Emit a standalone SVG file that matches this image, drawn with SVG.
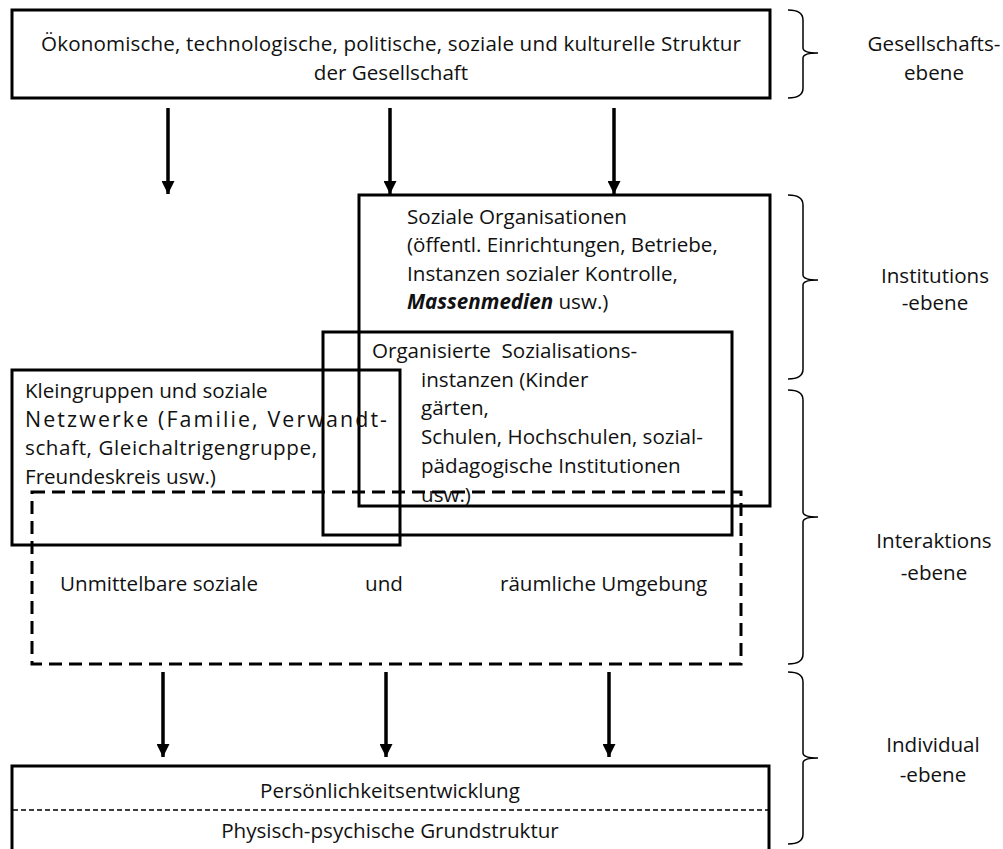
<svg xmlns="http://www.w3.org/2000/svg" width="1003" height="849" viewBox="0 0 1003 849">
  <defs>
    <marker id="arrowhead" markerWidth="13" markerHeight="13" refX="13" refY="6.5" orient="auto" markerUnits="userSpaceOnUse">
      <path d="M0,0 L13,6.5 L0,13 Z" fill="#000"/>
    </marker>
    <style>
      text { font-family: "Open Sans", "Liberation Sans", sans-serif; font-size: 20.6px; fill: #111; }
      .box { fill: none; stroke: #000; stroke-width: 3; }
      .dash { fill: none; stroke: #000; stroke-width: 3; stroke-dasharray: 13 7; }
      .sep { fill: none; stroke: #000; stroke-width: 1.5; stroke-dasharray: 5 3; }
      .brace { fill: none; stroke: #000; stroke-width: 1.5; }
      .arrow { stroke: #000; stroke-width: 3.5; marker-end: url(#arrowhead); }
      .mid { text-anchor: middle; }
      .em { font-weight: bold; font-style: italic; }
      .wide { font-size: 21.4px; }
    </style>
  </defs>
  <rect width="1003" height="849" fill="#fff"/>

  <!-- society level -->
  <g id="society">
    <rect class="box" x="12" y="10" width="758" height="88"/>
    <text class="mid" x="391" y="51" textLength="700" lengthAdjust="spacing">Ökonomische, technologische, politische, soziale und kulturelle Struktur</text>
    <text class="mid" x="391" y="80">der Gesellschaft</text>
  </g>

  <!-- social organisations -->
  <g id="organisations">
    <rect class="box" x="359" y="195" width="411" height="311"/>
    <text x="407" y="224">Soziale Organisationen</text>
    <text x="407" y="252">(öffentl. Einrichtungen, Betriebe,</text>
    <text x="407" y="281">Instanzen sozialer Kontrolle,</text>
    <text x="407" y="309"><tspan class="em">Massenmedien</tspan> usw.)</text>
  </g>

  <!-- organised socialisation agencies -->
  <g id="agencies">
    <rect class="box" x="323" y="332" width="409" height="203"/>
    <text x="372" y="358">Organisierte&#160; Sozialisations-</text>
    <text x="421" y="387">instanzen (Kinder</text>
    <text x="421" y="415">gärten,</text>
    <text x="421" y="444">Schulen, Hochschulen, sozial-</text>
    <text x="421" y="473">pädagogische Institutionen</text>
    <text x="421" y="502">usw.)</text>
  </g>

  <!-- small groups -->
  <g id="smallgroups">
    <rect class="box" x="12" y="370" width="388" height="175"/>
    <text x="25" y="398">Kleingruppen und soziale</text>
    <text class="wide" x="25" y="427" textLength="362" lengthAdjust="spacing">Netzwerke (Familie, Verwandt-</text>
    <text x="25" y="455" textLength="292" lengthAdjust="spacing">schaft, Gleichaltrigengruppe,</text>
    <text x="25" y="484">Freundeskreis usw.)</text>
  </g>

  <!-- immediate environment -->
  <g id="environment">
    <rect class="dash" x="32" y="492" width="709" height="172"/>
    <text x="60" y="591">Unmittelbare soziale</text>
    <text x="365" y="591">und</text>
    <text x="500" y="591">räumliche Umgebung</text>
  </g>

  <!-- individual -->
  <g id="individual">
    <rect class="box" x="12" y="766" width="757" height="100"/>
    <line class="sep" x1="13" y1="810" x2="768" y2="810"/>
    <text class="mid" x="390" y="798">Persönlichkeitsentwicklung</text>
    <text class="mid" x="390" y="838">Physisch-psychische Grundstruktur</text>
  </g>

  <!-- level braces and labels -->
  <g id="levels">
    <path class="brace" d="M788,10 Q803,10 803,20 L803,48 Q803,53 818,53 Q803,53 803,58 L803,88 Q803,98 788,98"/>
    <path class="brace" d="M788,195 Q803,195 803,205 L803,275 Q803,280 818,280 Q803,280 803,285 L803,369 Q803,379 788,379"/>
    <path class="brace" d="M788,390 Q803,390 803,400 L803,512 Q803,517 818,517 Q803,517 803,522 L803,654 Q803,664 788,664"/>
    <path class="brace" d="M788,672 Q803,672 803,682 L803,753 Q803,758 818,758 Q803,758 803,763 L803,834 Q803,844 788,844"/>
    <text class="mid" x="934" y="51">Gesellschafts-</text>
    <text class="mid" x="934" y="80">ebene</text>
    <text class="mid" x="935" y="283">Institutions</text>
    <text class="mid" x="935" y="310">-ebene</text>
    <text class="mid" x="934" y="548">Interaktions</text>
    <text class="mid" x="934" y="580">-ebene</text>
    <text class="mid" x="933" y="752">Individual</text>
    <text class="mid" x="933" y="782">-ebene</text>
  </g>

  <!-- connectors -->
  <g id="connectors">
    <line class="arrow" x1="168" y1="108" x2="168" y2="194"/>
    <line class="arrow" x1="390" y1="108" x2="390" y2="194"/>
    <line class="arrow" x1="614" y1="108" x2="614" y2="194"/>
    <line class="arrow" x1="163" y1="672" x2="163" y2="757"/>
    <line class="arrow" x1="386" y1="672" x2="386" y2="757"/>
    <line class="arrow" x1="609" y1="672" x2="609" y2="757"/>
  </g>
</svg>
